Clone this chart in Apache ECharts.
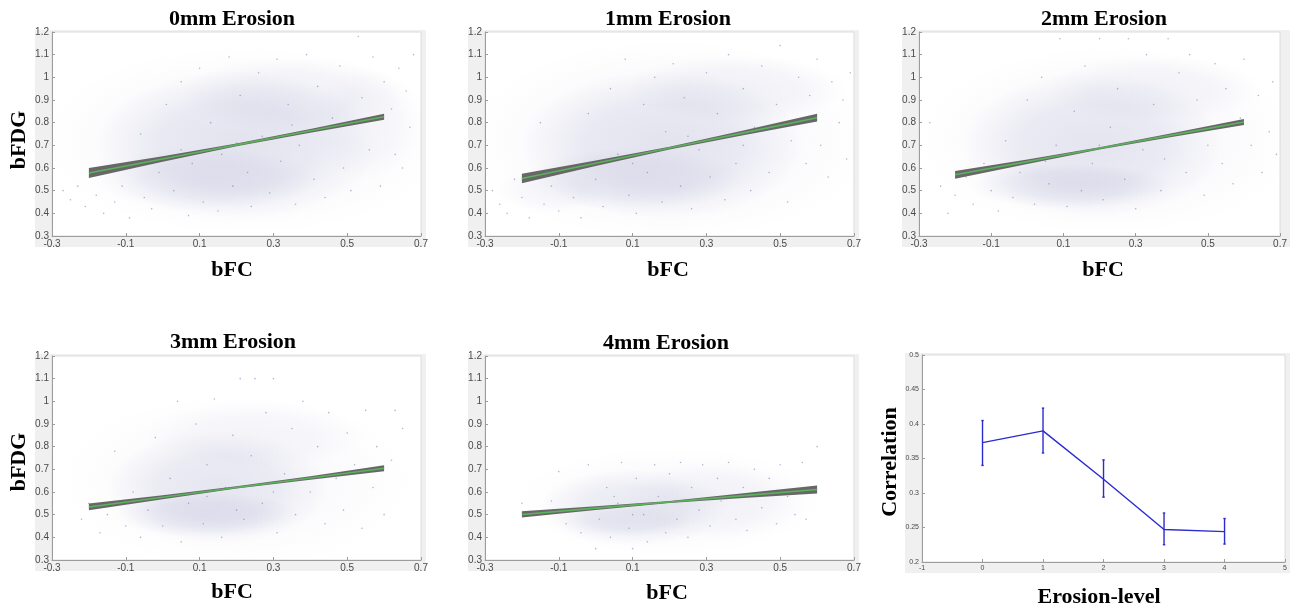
<!DOCTYPE html>
<html><head><meta charset="utf-8">
<script src="https://cdn.jsdelivr.net/npm/echarts@6/dist/echarts.min.js"></script>
<style>html,body{margin:0;padding:0;background:#fff}#c{width:1290px;height:608px}</style>
</head><body><div id="c"></div>
<script>
// ---------- data ----------
const panelTitles = ['0mm Erosion','1mm Erosion','2mm Erosion','3mm Erosion','4mm Erosion'];
const xTicksFC = [-0.3,-0.1,0.1,0.3,0.5,0.7];
const yTicksFDG = [0.3,0.4,0.5,0.6,0.7,0.8,0.9,1,1.1,1.2];

// regression fit and confidence band, sampled at bandX
const bandX = [-0.2, 0.0, 0.2, 0.4, 0.6];
const fit0 = [0.578,0.640,0.702,0.764,0.826];
const lo0  = [0.556,0.628,0.696,0.756,0.813];
const hi0  = [0.600,0.652,0.708,0.772,0.839];
const fit1 = [0.554,0.621,0.688,0.755,0.822];
const lo1  = [0.533,0.609,0.682,0.745,0.805];
const hi1  = [0.575,0.633,0.694,0.765,0.839];
const fit2 = [0.570,0.628,0.687,0.745,0.803];
const lo2  = [0.553,0.618,0.682,0.737,0.790];
const hi2  = [0.587,0.638,0.692,0.753,0.816];
const fit3 = [0.534,0.577,0.620,0.662,0.705];
const lo3  = [0.519,0.568,0.615,0.654,0.692];
const hi3  = [0.549,0.586,0.625,0.670,0.718];
const fit4 = [0.501,0.529,0.556,0.584,0.611];
const lo4  = [0.487,0.521,0.552,0.574,0.593];
const hi4  = [0.515,0.537,0.560,0.594,0.629];

// point-cloud density blobs: [cx, cy, rx, ry, peakAlpha]
const cloud0 = [[0.20,0.70,0.38,0.33,0.16],[0.35,0.92,0.30,0.17,0.08],[0.12,0.55,0.30,0.14,0.10],[0.22,0.72,0.55,0.42,0.05],[0.55,0.80,0.15,0.25,0.05]];
const cloud1 = [[0.18,0.70,0.38,0.33,0.16],[0.38,0.95,0.30,0.15,0.08],[0.10,0.55,0.30,0.14,0.10],[0.20,0.72,0.55,0.45,0.05],[-0.12,0.50,0.15,0.10,0.05]];
const cloud2 = [[0.18,0.70,0.36,0.32,0.15],[0.35,0.95,0.30,0.15,0.07],[0.12,0.52,0.28,0.10,0.12],[0.22,0.72,0.52,0.42,0.05]];
const cloud3 = [[0.15,0.62,0.30,0.25,0.15],[0.12,0.50,0.25,0.10,0.12],[0.25,0.85,0.30,0.15,0.05],[0.20,0.65,0.48,0.38,0.04]];
const cloud4 = [[0.10,0.53,0.25,0.17,0.13],[0.32,0.56,0.25,0.17,0.07],[0.08,0.47,0.18,0.07,0.08],[0.20,0.56,0.42,0.24,0.04]];

// individual scattered dots (bFC, bFDG)
const dots0 = [[-0.27,0.50],[-0.25,0.46],[-0.23,0.52],[-0.21,0.43],[-0.18,0.48],[-0.16,0.40],[-0.13,0.45],[-0.11,0.52],[-0.09,0.38],[-0.06,0.75],[-0.05,0.47],[-0.03,0.42],[-0.01,0.58],[0.01,0.88],[0.03,0.50],[0.05,0.98],[0.07,0.39],[0.08,0.62],[0.10,1.04],[0.11,0.45],[0.13,0.80],[0.15,0.41],[0.16,0.66],[0.18,1.09],[0.19,0.52],[0.21,0.92],[0.23,0.58],[0.24,0.43],[0.26,1.02],[0.27,0.74],[0.29,0.49],[0.31,1.08],[0.32,0.63],[0.34,0.88],[0.36,0.44],[0.37,0.70],[0.39,1.10],[0.41,0.55],[0.42,0.96],[0.44,0.47],[0.46,0.82],[0.48,1.05],[0.49,0.60],[0.51,0.50],[0.53,1.18],[0.54,0.91],[0.56,0.68],[0.57,1.09],[0.59,0.52],[0.60,0.98],[0.62,0.86],[0.63,0.66],[0.64,1.04],[0.65,0.60],[0.66,0.94],[0.67,0.78],[0.68,1.10],[0.20,0.71],[0.05,0.68],[0.35,0.79]];
const dots1 = [[-0.28,0.50],[-0.26,0.44],[-0.24,0.40],[-0.22,0.55],[-0.20,0.47],[-0.18,0.38],[-0.15,0.80],[-0.14,0.44],[-0.12,0.52],[-0.10,0.41],[-0.08,0.60],[-0.06,0.47],[-0.04,0.38],[-0.02,0.84],[0.00,0.55],[0.02,0.43],[0.04,0.95],[0.06,0.66],[0.08,1.08],[0.09,0.48],[0.11,0.40],[0.13,0.88],[0.14,0.58],[0.16,1.00],[0.18,0.45],[0.19,0.76],[0.21,1.06],[0.23,0.52],[0.24,0.91],[0.26,0.42],[0.28,0.68],[0.30,1.02],[0.31,0.56],[0.33,0.84],[0.35,0.46],[0.36,1.10],[0.38,0.62],[0.40,0.95],[0.42,0.50],[0.43,0.78],[0.45,1.05],[0.47,0.58],[0.49,0.88],[0.50,1.14],[0.52,0.45],[0.53,0.72],[0.55,1.00],[0.57,0.62],[0.58,0.92],[0.60,1.08],[0.61,0.70],[0.63,0.56],[0.64,0.98],[0.66,0.80],[0.67,0.90],[0.68,0.64],[0.69,1.02],[0.25,0.74],[0.10,0.62],[0.40,0.70]];
const dots2 = [[-0.27,0.80],[-0.24,0.52],[-0.22,0.40],[-0.20,0.48],[-0.17,0.56],[-0.15,0.44],[-0.12,0.62],[-0.10,0.50],[-0.08,0.41],[-0.06,0.72],[-0.04,0.47],[-0.02,0.58],[0.00,0.90],[0.02,0.44],[0.04,1.00],[0.06,0.53],[0.08,0.70],[0.09,1.17],[0.11,0.43],[0.13,0.85],[0.15,0.50],[0.16,1.05],[0.18,0.62],[0.20,1.17],[0.21,0.46],[0.23,0.78],[0.25,0.95],[0.27,0.55],[0.28,1.17],[0.30,0.42],[0.32,0.68],[0.33,1.10],[0.35,0.88],[0.37,0.50],[0.39,1.17],[0.40,0.75],[0.42,1.02],[0.44,0.58],[0.45,1.10],[0.47,0.90],[0.49,0.48],[0.50,0.70],[0.52,1.06],[0.54,0.62],[0.55,0.95],[0.57,0.53],[0.59,0.82],[0.60,1.08],[0.62,0.70],[0.64,0.92],[0.65,0.58],[0.67,0.76],[0.68,0.98],[0.69,0.66],[0.20,0.70],[0.05,0.63],[0.38,0.64]];
const dots3 = [[-0.22,0.48],[-0.20,0.55],[-0.17,0.42],[-0.15,0.50],[-0.13,0.78],[-0.10,0.45],[-0.08,0.60],[-0.06,0.40],[-0.04,0.52],[-0.02,0.84],[0.00,0.45],[0.02,0.66],[0.04,1.00],[0.05,0.38],[0.07,0.55],[0.09,0.90],[0.11,0.46],[0.12,0.72],[0.14,1.01],[0.16,0.40],[0.17,0.62],[0.19,0.85],[0.21,1.10],[0.22,0.48],[0.24,0.76],[0.25,1.10],[0.27,0.55],[0.28,0.95],[0.30,1.10],[0.31,0.42],[0.33,0.68],[0.35,0.88],[0.36,0.50],[0.38,1.00],[0.40,0.60],[0.42,0.80],[0.44,0.46],[0.45,0.95],[0.47,0.66],[0.49,0.52],[0.50,0.86],[0.52,0.72],[0.54,0.44],[0.55,0.96],[0.57,0.62],[0.58,0.80],[0.60,0.50],[0.62,0.74],[0.63,0.96],[0.65,0.88],[0.12,0.58],[0.20,0.52],[0.30,0.60]];
const dots4 = [[-0.20,0.55],[-0.16,0.50],[-0.12,0.56],[-0.10,0.69],[-0.08,0.46],[-0.06,0.52],[-0.04,0.42],[-0.02,0.72],[0.00,0.35],[0.01,0.48],[0.03,0.62],[0.04,0.40],[0.06,0.55],[0.07,0.73],[0.09,0.44],[0.10,0.35],[0.11,0.66],[0.13,0.50],[0.14,0.38],[0.16,0.72],[0.17,0.58],[0.19,0.42],[0.20,0.68],[0.22,0.48],[0.23,0.73],[0.25,0.40],[0.26,0.62],[0.28,0.52],[0.29,0.72],[0.31,0.45],[0.33,0.66],[0.34,0.56],[0.36,0.73],[0.38,0.48],[0.40,0.62],[0.41,0.43],[0.43,0.70],[0.45,0.53],[0.47,0.66],[0.49,0.46],[0.50,0.72],[0.52,0.58],[0.54,0.50],[0.56,0.73],[0.57,0.48],[0.60,0.80],[0.10,0.50],[0.05,0.58]];

// correlation vs erosion level
const erosionLevels = [0,1,2,3,4];
const corrMean  = [0.373,0.390,0.320,0.247,0.244];
const corrLower = [0.340,0.358,0.294,0.225,0.226];
const corrUpper = [0.405,0.423,0.348,0.271,0.263];
const xTicksErosion = [-1,0,1,2,3,4,5];
const yTicksCorr = [0.2,0.25,0.3,0.35,0.4,0.45,0.5];

// ---------- layout ----------
const grids = [
  {left:52, top:32, width:369, height:204},
  {left:485, top:32, width:369, height:204},
  {left:919, top:32, width:367, height:204},
  {left:52, top:356, width:369, height:204},
  {left:485, top:356, width:369, height:204},
  {left:922, top:355, width:366, height:207}
];
const fits = [fit0,fit1,fit2,fit3,fit4];
const los = [lo0,lo1,lo2,lo3,lo4];
const his = [hi0,hi1,hi2,hi3,hi4];
const clouds = [cloud0,cloud1,cloud2,cloud3,cloud4];
const dotsAll = [dots0,dots1,dots2,dots3,dots4];

const fmt = v => String(+Number(v).toFixed(2));
const axisCol = '#9c9c9c';
function mkAxis(gi, ticks, fs){
  return {gridIndex:gi, type:'value', min:ticks[0], max:ticks[ticks.length-1], interval:+(ticks[1]-ticks[0]).toFixed(3),
    axisLine:{show:true,onZero:false,lineStyle:{color:axisCol,width:1}},
    axisTick:{show:true,inside:true,length:3,lineStyle:{color:axisCol}},
    axisLabel:{fontSize:fs,color:'#4a4a4a',fontFamily:'Liberation Sans',margin:3,formatter:fmt},
    splitLine:{show:false}};
}

const xAxes=[], yAxes=[], series=[];
for(let i=0;i<5;i++){
  xAxes.push(mkAxis(i,xTicksFC,10));
  yAxes.push(mkAxis(i,yTicksFDG,10));
  // density haze
  series.push({type:'custom', xAxisIndex:i, yAxisIndex:i, silent:true, clip:true, z:1,
    data:clouds[i],
    renderItem:(params,api)=>{
      const c = api.coord([api.value(0),api.value(1)]);
      const s = api.size([api.value(2),api.value(3)]);
      const a = api.value(4);
      return {type:'circle', x:c[0], y:c[1], scaleX:s[0]/100, scaleY:s[1]/100,
        shape:{cx:0,cy:0,r:100},
        style:{fill:{type:'radial',x:0.5,y:0.5,r:0.5,colorStops:[
          {offset:0,color:'rgba(118,118,178,'+a+')'},
          {offset:0.55,color:'rgba(118,118,178,'+(a*0.75)+')'},
          {offset:1,color:'rgba(118,118,178,0)'}]}}};
    }});
  // dots
  series.push({type:'scatter', xAxisIndex:i, yAxisIndex:i, silent:true, z:2,
    symbolSize:1.6, itemStyle:{color:'rgba(100,100,170,0.6)'}, data:dotsAll[i]});
  // confidence band
  const idx=i;
  series.push({type:'custom', xAxisIndex:i, yAxisIndex:i, silent:true, z:3,
    data:bandX.map((x,k)=>[x,los[idx][k],his[idx][k]]),
    renderItem:(params,api)=>{
      if(params.dataIndex!==0) return null;
      const pts=[];
      for(let k=0;k<bandX.length;k++) pts.push(api.coord([bandX[k],his[idx][k]]));
      for(let k=bandX.length-1;k>=0;k--) pts.push(api.coord([bandX[k],los[idx][k]]));
      return {type:'polygon', shape:{points:pts}, style:{fill:'#676767',stroke:null,lineWidth:0}};
    }});
  // fit line
  series.push({type:'line', xAxisIndex:i, yAxisIndex:i, silent:true, z:4,
    data:bandX.map((x,k)=>[x,fits[idx][k]]), showSymbol:false, symbol:'none',
    lineStyle:{color:'#5cb25c',width:1.6}});
}
// correlation panel
xAxes.push(mkAxis(5,xTicksErosion,7));
yAxes.push(mkAxis(5,yTicksCorr,7));
series.push({type:'line', xAxisIndex:5, yAxisIndex:5, silent:true, z:3,
  data:erosionLevels.map((x,k)=>[x,corrMean[k]]), symbol:'none',
  lineStyle:{color:'#2b2bd2',width:1.4}});
series.push({type:'custom', xAxisIndex:5, yAxisIndex:5, silent:true, z:4,
  data:erosionLevels.map((x,k)=>[x,corrLower[k],corrUpper[k]]),
  renderItem:(params,api)=>{
    const lo=api.coord([api.value(0),api.value(1)]);
    const hi=api.coord([api.value(0),api.value(2)]);
    const st={stroke:'#2b2bd2',lineWidth:1.4};
    return {type:'group',children:[
      {type:'line',shape:{x1:lo[0],y1:lo[1],x2:hi[0],y2:hi[1]},style:st},
      {type:'line',shape:{x1:lo[0]-1.2,y1:lo[1],x2:lo[0]+1.2,y2:lo[1]},style:st},
      {type:'line',shape:{x1:hi[0]-1.2,y1:hi[1],x2:hi[0]+1.2,y2:hi[1]},style:st}
    ]};
  }});

// ---------- frames and labels ----------
const graphics=[];
grids.forEach((g,i)=>{
  graphics.push({type:'rect', z:-10, shape:{x:g.left-17,y:g.top-2,width:g.width+22,height:g.height+13},
    style:{fill:'#f0f0f0'}});
});
const bold='bold 22px "Liberation Serif", "Times New Roman", serif';
function txt(x,y,t,rot){
  const o={type:'text', x:x, y:y, z:10, style:{text:t, font:bold, fill:'#000', textAlign:'center', textVerticalAlign:'middle'}};
  if(rot) o.rotation=Math.PI/2;
  return o;
}
const titlePos=[[232,19],[668,19],[1104,19],[233,342],[666,343]];
titlePos.forEach((p,i)=>graphics.push(txt(p[0],p[1],panelTitles[i])));
[[232,270],[668,270],[1103,270],[232,592],[667,593]].forEach(p=>graphics.push(txt(p[0],p[1],'bFC')));
graphics.push(txt(19,140,'bFDG',true));
graphics.push(txt(19,462,'bFDG',true));
graphics.push(txt(890,462,'Correlation',true));
graphics.push(txt(1099,597,'Erosion-level'));

const chart=echarts.init(document.getElementById('c'),null,{renderer:'canvas'});
chart.setOption({
  animation:false,
  backgroundColor:'#ffffff',
  grid:grids.map(g=>Object.assign({show:true,backgroundColor:'#ffffff',borderColor:'#dcdcdc',borderWidth:1,containLabel:false},g)),
  xAxis:xAxes, yAxis:yAxes, series:series, graphic:graphics
});
</script></body></html>
